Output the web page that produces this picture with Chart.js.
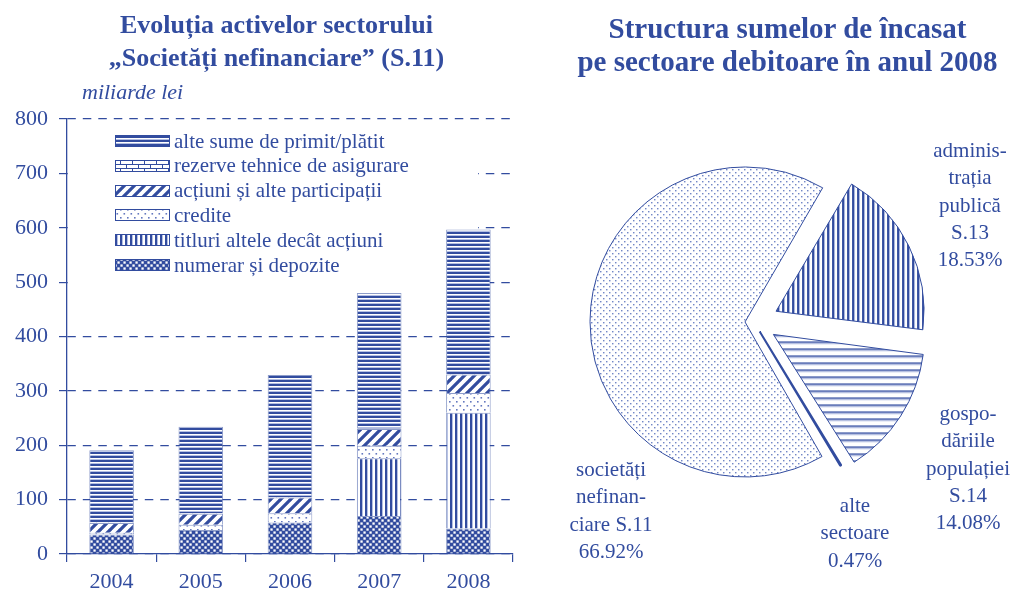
<!DOCTYPE html>
<html>
<head>
<meta charset="utf-8">
<script src="https://cdn.jsdelivr.net/npm/chart.js@4.4.1/dist/chart.umd.min.js"></script>
<style>
  body { margin: 0; background: #fff; }
  #wrap { position: relative; width: 1013px; height: 592px; font-family: "Liberation Serif", serif; color: #324c9f; }
  canvas { position: absolute; top: 0; }
  .title { position: absolute; font-weight: bold; text-align: center; white-space: nowrap; }
  #barTitle { left: 0; width: 553px; top: 9px; font-size: 26px; line-height: 32.5px; }
  #pieTitle { left: 562px; width: 451px; top: 12px; font-size: 29px; line-height: 33px; }
  #unit { position: absolute; left: 82px; top: 81px; font-size: 22px; line-height: 22px; font-style: italic; }
  .plabel { position: absolute; width: 160px; margin-left: -80px; text-align: center; font-size: 21px; line-height: 27.3px; }
</style>
</head>
<body>
<div id="wrap">
  <canvas id="bars" width="530" height="592" style="left:0"></canvas>
  <canvas id="pie" width="453" height="592" style="left:560px"></canvas>
  <div class="title" id="barTitle">Evoluția activelor sectorului<br>„Societăți nefinanciare” (S.11)</div>
  <div id="unit">miliarde lei</div>
  <div class="title" id="pieTitle">Structura sumelor de încasat<br>pe sectoare debitoare în anul 2008</div>
</div>
<script>
// bar chart data (miliarde lei)
const years = ['2004', '2005', '2006', '2007', '2008'];
const numerar = [36, 44, 58, 70, 47];
const titluri = [0, 0, 0, 106, 213];
const credite = [3, 10, 17, 23, 36];
const actiuni = [18, 20, 29, 31, 34];
const rezerve = [1, 1, 1, 1, 1];
const alteSume = [133, 159, 224, 249, 266];
const yTicks = [0, 100, 200, 300, 400, 500, 600, 700, 800];

// pie data (%)
const pieNames = ['administrația publică S.13', 'gospodăriile populației S.14', 'alte sectoare', 'societăți nefinanciare S.11'];
const pieValues = [18.53, 14.08, 0.47, 66.92];
const pieLines = [
  ['adminis-', 'trația', 'publică', 'S.13'],
  ['gospo-', 'dăriile', 'populației', 'S.14'],
  ['alte', 'sectoare'],
  ['societăți', 'nefinan-', 'ciare S.11']
];

const BLUE = '#324c9f';
const LIGHT = '#b4bfe3';
const FONT = '"Liberation Serif", serif';

function pattern(w, h, draw) {
  const c = document.createElement('canvas');
  c.width = w; c.height = h;
  const g = c.getContext('2d');
  g.fillStyle = '#fff';
  g.fillRect(0, 0, w, h);
  draw(g);
  return g.createPattern(c, 'repeat');
}

const pHoriz = pattern(4, 4, g => {
  g.fillStyle = BLUE; g.fillRect(0, 0, 4, 2);
  g.fillStyle = LIGHT; g.fillRect(0, 3, 4, 1);
});
const pBrick = pattern(12, 8, g => {
  g.strokeStyle = BLUE; g.lineWidth = 1;
  g.beginPath();
  g.moveTo(0, 0.5); g.lineTo(12, 0.5);
  g.moveTo(0, 4.5); g.lineTo(12, 4.5);
  g.moveTo(0.5, 0); g.lineTo(0.5, 4);
  g.moveTo(6.5, 4); g.lineTo(6.5, 8);
  g.stroke();
});
const pDiag = pattern(10, 10, g => {
  g.strokeStyle = BLUE; g.lineWidth = 3.2;
  g.beginPath();
  for (const x of [-10, 0, 10]) { g.moveTo(x - 1, 11); g.lineTo(x + 11, -1); }
  g.stroke();
});
const pDots = pattern(7, 8, g => {
  g.fillStyle = '#6478bf';
  g.fillRect(1, 1, 1.6, 1.6);
  g.fillRect(4.5, 5, 1.6, 1.6);
});
const pVert = pattern(5, 5, g => {
  g.fillStyle = BLUE; g.fillRect(0, 0, 2, 5);
  g.fillStyle = LIGHT; g.fillRect(2, 0, 1, 5);
});
const pCheck = pattern(6, 6, g => {
  g.fillStyle = BLUE; g.fillRect(0, 0, 6, 6);
  g.fillStyle = '#fff';
  g.fillRect(0.4, 0.4, 2.3, 2.3);
  g.fillRect(3.4, 3.4, 2.3, 2.3);
});
const pFine = pattern(6, 6, g => {
  g.fillStyle = '#6a7fc4';
  g.fillRect(1, 1, 1.4, 1.4);
  g.fillRect(4, 4, 1.4, 1.4);
});
const pPieH = pattern(4, 7, g => {
  g.fillStyle = BLUE; g.fillRect(0, 0, 4, 1.6);
  g.fillStyle = LIGHT; g.fillRect(0, 1.6, 4, 1);
});

// legend drawn on a white panel inside the plot area
const patternLegend = {
  id: 'patternLegend',
  beforeDatasetsDraw(chart, args, opts) {
    const ctx = chart.ctx;
    const a = chart.chartArea;
    ctx.save();
    ctx.fillStyle = '#fff';
    ctx.fillRect(a.left + 1, opts.bgTop, opts.bgRight - a.left - 1, opts.bgBottom - opts.bgTop);
    ctx.restore();
  },
  afterDatasetsDraw(chart, args, opts) {
    const ctx = chart.ctx;
    const sets = chart.data.datasets.slice().reverse();
    ctx.save();
    ctx.font = opts.font;
    ctx.textBaseline = 'middle';
    sets.forEach((ds, i) => {
      const cy = opts.top + i * opts.rowHeight;
      const y0 = Math.round(cy - opts.boxHeight / 2);
      ctx.fillStyle = ds.backgroundColor;
      ctx.fillRect(opts.left, y0, opts.boxWidth, opts.boxHeight);
      ctx.strokeStyle = BLUE;
      ctx.lineWidth = 1;
      ctx.strokeRect(opts.left + 0.5, y0 + 0.5, opts.boxWidth - 1, opts.boxHeight - 1);
      ctx.fillStyle = BLUE;
      ctx.fillText(ds.label, opts.left + opts.boxWidth + 4, cy + 1);
    });
    ctx.restore();
  }
};

function barSet(label, data, fill) {
  return {
    label: label,
    data: data,
    backgroundColor: fill,
    borderColor: 'rgba(50, 76, 159, 0.55)',
    borderWidth: 1,
    categoryPercentage: 0.5,
    barPercentage: 1
  };
}

new Chart(document.getElementById('bars'), {
  type: 'bar',
  data: {
    labels: years,
    datasets: [
      barSet('numerar și depozite', numerar, pCheck),
      barSet('titluri altele decât acțiuni', titluri, pVert),
      barSet('credite', credite, pDots),
      barSet('acțiuni și alte participații', actiuni, pDiag),
      barSet('rezerve tehnice de asigurare', rezerve, pBrick),
      barSet('alte sume de primit/plătit', alteSume, pHoriz)
    ]
  },
  plugins: [patternLegend],
  options: {
    responsive: false,
    animation: false,
    events: [],
    layout: { padding: { left: 0, right: 17, top: 119, bottom: 0 } },
    plugins: {
      legend: { display: false },
      tooltip: { enabled: false },
      patternLegend: {
        left: 115, top: 141, rowHeight: 24.8, boxWidth: 55, boxHeight: 12,
        font: '21px "Liberation Serif"',
        bgTop: 124, bgBottom: 289, bgRight: 478
      }
    },
    scales: {
      x: {
        stacked: true,
        grid: { drawOnChartArea: false, drawTicks: true, tickLength: 8, color: BLUE, lineWidth: 1.2, offset: true },
        border: { color: BLUE, width: 1.3 },
        ticks: { color: BLUE, font: { family: FONT, size: 22 }, padding: 7 },
        afterFit(scale) { scale.height = 38; }
      },
      y: {
        stacked: true,
        min: yTicks[0],
        max: yTicks[yTicks.length - 1],
        afterBuildTicks(scale) { scale.ticks = yTicks.map(v => ({ value: v })); },
        grid: { color: BLUE, lineWidth: 1.2, tickLength: 8 },
        border: { color: BLUE, width: 1.3, dash: [8.5, 7] },
        ticks: { color: BLUE, font: { family: FONT, size: 22 }, padding: 11 },
        afterFit(scale) { scale.width = 67; }
      }
    }
  }
});

new Chart(document.getElementById('pie'), {
  type: 'pie',
  data: {
    labels: pieNames,
    datasets: [{
      data: pieValues,
      backgroundColor: [pVert, pPieH, BLUE, pFine],
      borderColor: BLUE,
      borderWidth: [1, 1, 2, 1],
      offset: [98, 92, 44, 36],
      rotation: 30.6,
      radius: 146
    }]
  },
  options: {
    responsive: false,
    animation: false,
    events: [],
    layout: { padding: { left: 0, right: 65, top: 52, bottom: 0 } },
    plugins: { legend: { display: false }, tooltip: { enabled: false } }
  }
});

// slice labels (text only), placed beside each slice
const labelPos = [
  { x: 970, top: 137 },
  { x: 968, top: 400 },
  { x: 855, top: 492 },
  { x: 611, top: 456 }
];
const wrap = document.getElementById('wrap');
pieValues.forEach((v, i) => {
  const d = document.createElement('div');
  d.className = 'plabel';
  d.style.left = labelPos[i].x + 'px';
  d.style.top = labelPos[i].top + 'px';
  d.innerHTML = pieLines[i].concat(v.toFixed(2) + '%').join('<br>');
  wrap.appendChild(d);
});
</script>
</body>
</html>
